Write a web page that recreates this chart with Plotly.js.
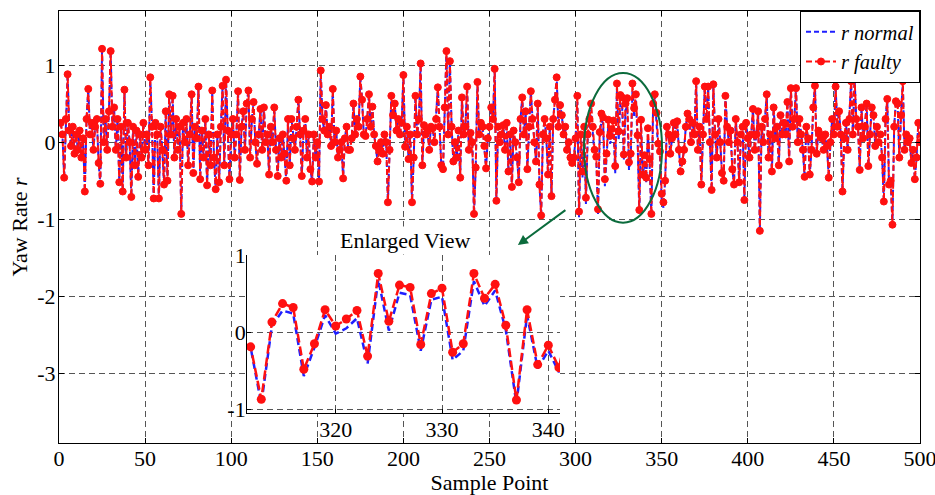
<!DOCTYPE html>
<html><head><meta charset="utf-8">
<script src="https://cdn.plot.ly/plotly-3.0.1.min.js"></script>
<style>html,body{margin:0;padding:0;background:#fff;} #chart{width:935px;height:495px;}</style>
</head><body><div id="chart"></div>
<script>
// Yaw rate r, normal condition, samples 1..500
const rNormal = [
 0.25, 0.10, -0.46, 0.30, 0.88, 0.15, -0.05, 0.20, -0.15, 0.10,
 -0.10, 0.15, -0.20, 0.05, -0.64, 0.30, 0.69, 0.10, 0.25, -0.10,
 0.20, 0.30, -0.27, -0.54, 1.21, 0.00, 0.30, -0.10, 0.40, 1.18,
 0.20, 0.45, -0.10, 0.30, -0.52, 0.20, -0.64, 0.68, -0.20, 0.25,
 0.00, -0.71, 0.20, -0.30, 0.15, -0.45, 0.10, -0.20, 0.25, -0.10,
 0.10, -0.30, 0.84, 0.20, -0.73, 0.25, 0.10, -0.73, 0.20, -0.10,
 -0.55, 0.40, -0.50, 0.62, 0.10, 0.60, -0.20, 0.30, -0.10, 0.20,
 -0.93, 0.25, 0.00, 0.30, -0.30, 0.10, 0.62, -0.40, 0.20, 0.05,
 0.72, -0.48, 0.15, -0.20, 0.30, -0.56, 0.10, -0.30, 0.67, -0.20,
 -0.61, 0.10, -0.52, 0.20, 0.73, -0.30, 0.81, 0.15, -0.48, 0.10,
 0.30, -0.20, 0.10, 0.66, -0.49, 0.20, 0.40, -0.10, 0.50, 0.67,
 -0.20, 0.30, 0.52, 0.00, -0.28, 0.10, 0.43, -0.10, 0.45, 0.00,
 0.10, -0.42, 0.20, 0.00, 0.45, -0.10, -0.44, 0.05, -0.20, 0.10,
 -0.15, -0.50, 0.30, -0.30, 0.30, 0.05, -0.10, 0.20, 0.55, 0.10,
 -0.44, 0.15, 0.30, -0.20, 0.10, -0.35, -0.51, 0.10, -0.20, 0.00,
 -0.51, 0.93, 0.30, 0.15, 0.48, 0.10, 0.20, -0.05, 0.69, 0.00,
 0.15, -0.20, -0.10, 0.00, -0.47, 0.05, 0.20, -0.10, -0.10, 0.05,
 0.50, 0.10, 0.30, 0.20, 0.85, 0.55, 0.10, 0.08, 0.30, 0.62,
 0.20, 0.46, 0.10, -0.05, -0.25, -0.10, 0.00, -0.15, 0.10, 0.00,
 -0.78, -0.10, 0.60, 0.35, 0.50, 0.15, 0.30, 0.10, 0.25, 0.87,
 -0.06, 0.20, -0.22, 0.10, -0.78, -0.20, 0.60, 0.10, 0.30, 1.02,
 -0.30, 0.22, 0.10, 0.15, -0.10, 0.20, 0.18, 0.00, 0.30, 0.71,
 0.20, -0.30, -0.35, 0.45, 1.18, 0.10, 1.05, 0.20, -0.25, 0.00,
 -0.20, 0.15, -0.46, 0.58, 0.10, 0.20, 0.72, -0.10, 0.12, 0.00,
 -0.93, -0.33, 0.78, 0.10, 0.25, 0.20, -0.05, -0.34, 0.05, 0.20,
 0.45, 0.30, 0.95, -0.76, 0.20, 0.00, 0.10, 0.22, -0.10, 0.25,
 -0.38, 0.10, -0.58, 0.15, 0.00, -0.20, -0.52, 0.30, 0.58, 0.10,
 0.40, -0.35, 0.20, 0.66, 0.30, 0.00, -0.25, 0.50, -0.55, -0.95,
 0.10, 0.30, 0.05, -0.42, 0.20, -0.70, 0.30, 0.55, 0.84, 0.20,
 0.48, 0.35, 0.10, 0.20, -0.10, 0.00, -0.20, -0.27, -0.20, 0.05,
 0.52, -0.98, 0.02, -0.46, 0.12, -0.80, 0.02, 0.22, 0.42, 0.12,
 -0.18, -0.20, -0.93, 0.08, 0.28, 0.24, -0.57, -0.20, 0.22, -0.02,
 0.05, 0.18, -0.41, 0.68, 0.02, 0.51, 0.48, -0.24, 0.42, 0.46,
 -0.36, -0.24, 0.66, 0.34, 0.54, 0.03, -0.93, 0.22, -0.47, -0.24,
 -0.52, 0.10, -0.30, -0.97, 0.45, 0.58, 0.30, -0.10, -0.20, -0.75,
 -0.85, -0.50, 0.20, 0.10, -0.15, 0.05, 0.25, 0.10, 0.27, -0.10,
 -0.38, -0.25, -0.10, 0.20, 0.37, 0.30, 0.00, 0.25, 0.10, 0.79,
 -0.10, 0.20, -0.55, 0.10, 0.72, 0.30, 0.72, 0.00, -0.62, 0.75,
 0.10, -0.20, 0.30, 0.00, -0.40, -0.50, 0.60, 0.20, 0.00, 0.15,
 -0.35, -0.55, 0.30, 0.00, -0.52, 0.10, 0.20, -0.75, 0.25, 0.05,
 -0.20, 0.10, 0.43, -0.10, 0.10, 0.40, -1.15, 0.20, 0.00, 0.30,
 0.62, -0.20, 0.10, -0.38, 0.45, 0.05, 0.20, -0.30, 0.35, 0.10,
 0.25, 0.10, 0.52, -0.25, 0.70, 0.20, 0.30, 0.70, 0.00, 0.30,
 0.10, -0.10, -0.45, 0.20, 0.05, -0.42, -0.10, 0.45, 0.73, -0.15,
 0.15, 0.10, 0.05, -0.10, 0.10, -0.05, -0.46, 0.00, 0.30, 0.10,
 0.72, 0.20, 0.40, 0.10, -0.64, 0.05, 0.25, -0.10, 0.30, 0.79,
 0.10, 0.84, 0.30, 0.20, -0.36, 0.45, 0.05, 0.20, 0.50, -0.31,
 0.10, 0.45, 0.35, -0.05, 0.20, 0.00, 0.10, -0.20, -0.77, 0.30,
 0.56, -0.55, -0.50, -1.07, 0.20, 0.53, 0.50, -0.20, 0.35, 0.79,
 -0.10, 0.10, 0.00, 0.05, -0.27, -0.10, -0.48, -0.20, 0.25, 0.00
];

// Faulty measurement differs from normal only inside the fault window (samples 301..351)
const faultStart = 301;
const rFaultySegment = [
 0.60, -0.90, 0.10, -0.38, 0.20, -0.72, 0.10, 0.30, 0.50, 0.20, -0.10,
 -0.19, -0.87, 0.13, 0.37, 0.32, -0.48, -0.15, 0.29, 0.08, 0.17,
 0.28, -0.31, 0.76, 0.14, 0.61, 0.58, -0.16, 0.50, 0.57, -0.26,
 -0.15, 0.76, 0.44, 0.62, 0.09, -0.88, 0.29, -0.42, -0.17, -0.46,
 0.18, -0.22, -0.93, 0.50, 0.62, 0.38, -0.02, -0.12, -0.67, -0.78
];

const mainXTicks = [0, 50, 100, 150, 200, 250, 300, 350, 400, 450, 500];
const mainYTicks = [1, 0, -1, -2, -3];
const mainYTickText = ['1', '0', '-1', '-2', '-3'];
const insetXTicks = [320, 330, 340];
const insetYTicks = [-1, 0, 1];
const insetYTickText = ['-1', '0', '1'];

const sampleIndex = rNormal.map((_, i) => i + 1);
const rFaulty = rNormal.slice();
rFaultySegment.forEach((v, k) => { rFaulty[faultStart - 1 + k] = v; });

const FONT = 'Liberation Serif, Times New Roman, serif';
const BLUE = '#1f1fff';
const RED = '#ff1010';
const GREEN = '#0b6b3c';

const traces = [
  {x: sampleIndex, y: rNormal, type: 'scatter', mode: 'lines', name: '<i>r normal</i>',
   line: {color: BLUE, width: 2, dash: '5px,3px'}, xaxis: 'x', yaxis: 'y'},
  {x: sampleIndex, y: rFaulty, type: 'scatter', mode: 'lines+markers', name: '<i>r faulty</i>',
   line: {color: RED, width: 2, dash: '6px,3px'},
   marker: {color: RED, size: 7, symbol: 'circle', line: {color: RED, width: 1}}, xaxis: 'x', yaxis: 'y'},
  {x: sampleIndex, y: rNormal, type: 'scatter', mode: 'lines', showlegend: false,
   line: {color: BLUE, width: 2.5, dash: '7px,4px'}, xaxis: 'x2', yaxis: 'y2'},
  {x: sampleIndex, y: rFaulty, type: 'scatter', mode: 'lines+markers', showlegend: false,
   line: {color: RED, width: 2.5, dash: '9px,4px'},
   marker: {color: RED, size: 9, symbol: 'circle'}, xaxis: 'x2', yaxis: 'y2'}
];

const gridStyle = {showgrid: true, gridcolor: '#555', gridwidth: 1, griddash: '6px,4px', zeroline: false};

const layout = {
  width: 935, height: 495,
  margin: {l: 59, r: 15, t: 11, b: 52},
  paper_bgcolor: '#fff', plot_bgcolor: '#fff',
  font: {family: FONT, size: 22, color: '#000'},
  showlegend: true,
  legend: {x: 1, xanchor: 'right', y: 1, yanchor: 'top', bgcolor: '#fff', bordercolor: '#000', borderwidth: 1,
           font: {family: FONT, size: 20.5, color: '#000'}, itemwidth: 30, tracegroupgap: 0},
  xaxis: Object.assign({}, gridStyle, {
    domain: [0, 1], range: [0, 500], tickvals: mainXTicks, ticktext: mainXTicks.map(String),
    showline: true, mirror: 'ticks', linecolor: '#000', linewidth: 1,
    ticks: 'inside', ticklen: 5, tickcolor: '#000', tickfont: {family: FONT, size: 22},
    ticklabelstandoff: -4, ticklabeloverflow: 'allow',
    title: {text: 'Sample Point', font: {family: FONT, size: 22}, standoff: 0}, automargin: false
  }),
  yaxis: Object.assign({}, gridStyle, {
    domain: [0, 1], range: [-3.9, 1.7], tickvals: mainYTicks, ticktext: mainYTickText,
    showline: true, mirror: 'ticks', linecolor: '#000', linewidth: 1,
    ticks: 'inside', ticklen: 5, tickcolor: '#000', tickfont: {family: FONT, size: 22},
    ticklabelstandoff: -2,
    title: {text: 'Yaw Rate <i>r</i>', font: {family: FONT, size: 22}, standoff: 3}, automargin: false
  }),
  xaxis2: Object.assign({}, gridStyle, {
    domain: [0.2184, 0.5819], anchor: 'y2', range: [311.66, 341.1], tickvals: insetXTicks, ticktext: insetXTicks.map(String),
    showline: true, mirror: false, linecolor: '#000', linewidth: 1,
    ticks: 'inside', ticklen: 4, tickcolor: '#000', tickfont: {family: FONT, size: 22},
    ticklabelstandoff: -3, ticklabeloverflow: 'allow'
  }),
  yaxis2: Object.assign({}, gridStyle, {
    domain: [0.0694, 0.4352], anchor: 'x2', range: [-1.048, 1], tickvals: insetYTicks, ticktext: insetYTickText,
    showline: true, mirror: false, linecolor: '#000', linewidth: 1,
    ticks: 'inside', ticklen: 4, tickcolor: '#000', tickfont: {family: FONT, size: 22},
    ticklabelstandoff: -4, ticklabeloverflow: 'allow'
  }),
  shapes: [
    {type: 'rect', xref: 'x2 domain', yref: 'y2 domain', x0: 0, x1: 1, y0: 0, y1: 1,
     fillcolor: '#fff', line: {width: 0}, layer: 'below'},
    {type: 'circle', xref: 'x', yref: 'y', x0: 304.9, x1: 350.2, y0: -1.045, y1: 0.896,
     line: {color: GREEN, width: 2}}
  ],
  annotations: [
    {xref: 'x', yref: 'y', x: 201.5, y: -1.269, text: 'Enlarged View', showarrow: false,
     font: {family: FONT, size: 22, color: '#000'}, bgcolor: '#fff', borderpad: 1},
    {xref: 'x', yref: 'y', x: 266.5, y: -1.334, text: '', showarrow: true, axref: 'pixel', ayref: 'pixel',
     ax: 49, ay: -36, arrowhead: 2, arrowsize: 1, arrowwidth: 2, arrowcolor: GREEN, standoff: 0}
  ]
};

Plotly.newPlot('chart', traces, layout, {displayModeBar: false, staticPlot: true});
</script>
</body></html>
